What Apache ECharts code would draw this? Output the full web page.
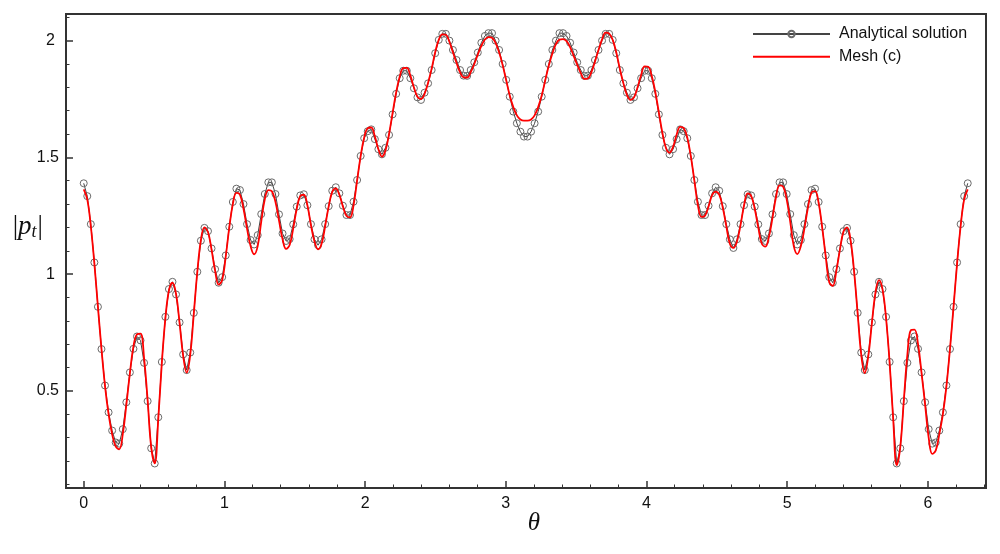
<!DOCTYPE html>
<html><head><meta charset="utf-8">
<script src="https://cdn.jsdelivr.net/npm/echarts@6/dist/echarts.min.js"></script>
<style>html,body{margin:0;padding:0;background:#fff}#c{width:1000px;height:554px}</style>
</head><body><div id="c"></div>
<script>
// sampling step of theta (250 samples from 0 to 2*pi)
const THETA_STEP = 2 * Math.PI / 249;

const analytical = [
 1.389,1.334,1.214,1.050,0.860,0.679,0.523,0.408,0.330,0.279,
 0.274,0.336,0.451,0.579,0.680,0.733,0.716,0.620,0.456,0.254,
 0.189,0.387,0.624,0.817,0.936,0.967,0.913,0.793,0.656,0.589,
 0.664,0.834,1.010,1.143,1.198,1.184,1.110,1.021,0.963,0.987,
 1.080,1.203,1.309,1.366,1.360,1.300,1.214,1.146,1.127,1.167,
 1.257,1.343,1.393,1.393,1.343,1.256,1.174,1.142,1.150,1.213,
 1.289,1.337,1.342,1.295,1.214,1.149,1.124,1.149,1.214,1.291,
 1.357,1.372,1.346,1.293,1.253,1.253,1.310,1.403,1.506,1.582,
 1.612,1.620,1.578,1.535,1.513,1.541,1.596,1.684,1.772,1.839,
 1.871,1.871,1.839,1.796,1.757,1.746,1.777,1.817,1.874,1.946,
 2.003,2.029,2.029,2.000,1.960,1.917,1.874,1.850,1.849,1.874,
 1.907,1.949,1.991,2.020,2.032,2.032,2.000,1.960,1.900,1.832,
 1.760,1.696,1.646,1.610,1.589,
 1.589,1.610,1.646,1.696,1.760,
 1.832,1.900,1.960,2.000,2.032,2.032,2.020,1.991,1.949,1.907,
 1.874,1.849,1.850,1.874,1.917,1.960,2.000,2.029,2.029,2.003,
 1.946,1.874,1.817,1.777,1.746,1.757,1.796,1.839,1.871,1.871,
 1.839,1.772,1.684,1.596,1.541,1.513,1.535,1.578,1.620,1.612,
 1.582,1.506,1.403,1.310,1.253,1.253,1.293,1.346,1.372,1.357,
 1.291,1.214,1.149,1.112,1.149,1.214,1.295,1.342,1.337,1.289,
 1.213,1.150,1.142,1.174,1.256,1.343,1.393,1.393,1.343,1.257,
 1.167,1.127,1.146,1.214,1.300,1.360,1.366,1.309,1.203,1.080,
 0.987,0.963,1.021,1.110,1.184,1.198,1.143,1.010,0.834,0.664,
 0.589,0.656,0.793,0.913,0.967,0.936,0.817,0.624,0.387,0.189,
 0.254,0.456,0.620,0.716,0.733,0.680,0.579,0.451,0.336,0.274,
 0.279,0.330,0.408,0.523,0.679,0.860,1.050,1.214,1.334,1.389
];

const meshC = [
 1.363,1.320,1.205,1.045,0.860,0.680,0.520,0.400,0.315,0.262,
 0.250,0.315,0.440,0.575,0.690,0.742,0.745,0.640,0.460,0.260,
 0.190,0.380,0.620,0.810,0.930,0.963,0.915,0.790,0.650,0.578,
 0.655,0.830,1.010,1.145,1.200,1.180,1.105,1.015,0.955,0.975,
 1.075,1.200,1.300,1.348,1.340,1.280,1.195,1.120,1.085,1.120,
 1.225,1.320,1.360,1.355,1.310,1.230,1.150,1.108,1.125,1.195,
 1.280,1.335,1.340,1.295,1.210,1.140,1.106,1.130,1.205,1.290,
 1.352,1.367,1.340,1.290,1.250,1.243,1.295,1.400,1.505,1.585,
 1.625,1.628,1.590,1.535,1.503,1.530,1.600,1.690,1.778,1.845,
 1.882,1.883,1.850,1.800,1.760,1.750,1.772,1.820,1.880,1.950,
 2.003,2.027,2.025,1.995,1.950,1.905,1.865,1.843,1.842,1.865,
 1.900,1.940,1.978,2.005,2.015,2.012,1.990,1.950,1.895,1.830,
 1.765,1.715,1.680,1.662,1.657,
 1.657,1.662,1.680,1.715,1.765,
 1.830,1.893,1.945,1.985,2.004,2.006,1.998,1.972,1.935,1.897,
 1.862,1.836,1.838,1.865,1.910,1.960,2.005,2.034,2.030,2.003,
 1.950,1.880,1.818,1.768,1.746,1.757,1.800,1.852,1.890,1.888,
 1.848,1.780,1.692,1.605,1.540,1.520,1.545,1.597,1.631,1.626,
 1.585,1.505,1.400,1.295,1.245,1.250,1.290,1.338,1.353,1.340,
 1.285,1.205,1.130,1.112,1.140,1.210,1.295,1.346,1.335,1.280,
 1.200,1.130,1.118,1.160,1.240,1.330,1.380,1.375,1.320,1.225,
 1.120,1.086,1.120,1.195,1.285,1.350,1.355,1.305,1.200,1.075,
 0.965,0.950,1.015,1.105,1.182,1.200,1.145,1.010,0.830,0.655,
 0.576,0.650,0.790,0.920,0.974,0.935,0.810,0.620,0.380,0.182,
 0.260,0.460,0.655,0.760,0.762,0.700,0.575,0.440,0.300,0.230,
 0.245,0.315,0.400,0.520,0.680,0.860,1.045,1.205,1.320,1.363
];

const xMajorTicks = [0, 1, 2, 3, 4, 5, 6];
const xMinorTicks = [0.2,0.4,0.6,0.8,1.2,1.4,1.6,1.8,2.2,2.4,2.6,2.8,3.2,3.4,3.6,3.8,4.2,4.4,4.6,4.8,5.2,5.4,5.6,5.8,6.2,6.4];
const yMajorTicks = [0.5, 1, 1.5, 2];
const yMinorTicks = [0.1,0.2,0.3,0.4,0.6,0.7,0.8,0.9,1.1,1.2,1.3,1.4,1.6,1.7,1.8,1.9,2.1];
const X_RANGE = [-0.126, 6.413];
const Y_RANGE = [0.084, 2.114];
const seriesNames = ['Analytical solution', 'Mesh (c)'];

const toPairs = arr => arr.map((v, i) => [i * THETA_STEP, v]);

const chart = echarts.init(document.getElementById('c'), null, {renderer: 'canvas'});
const labelFont = {fontSize: 16, color: '#111', fontFamily: 'Liberation Sans'};
const gridBox = {left: 66, top: 14, width: 920, height: 474};
const hiddenLine = {show: false, onZero: false};

chart.setOption({
  animation: false,
  backgroundColor: '#fff',
  grid: [
    Object.assign({show: true, borderColor: '#333', borderWidth: 2, backgroundColor: 'transparent'}, gridBox),
    Object.assign({}, gridBox)
  ],
  legend: {
    data: seriesNames,
    orient: 'vertical',
    left: 747,
    top: 21,
    itemWidth: 77,
    itemHeight: 8,
    itemGap: 6.7,
    textStyle: Object.assign({lineHeight: 16, padding: [0, 0, 0, 4]}, labelFont)
  },
  xAxis: [
    {
      type: 'value', gridIndex: 0, min: X_RANGE[0], max: X_RANGE[1],
      axisLine: hiddenLine, splitLine: {show: false},
      axisTick: {inside: true, length: 7, customValues: xMajorTicks, lineStyle: {color: '#333', width: 1.5}},
      axisLabel: Object.assign({customValues: xMajorTicks, margin: 8}, labelFont),
      name: 'θ', nameLocation: 'middle', nameGap: 23, nameMoveOverlap: false,
      nameTextStyle: {fontFamily: 'Liberation Serif', fontStyle: 'italic', fontSize: 25, color: '#111', padding: [0, 0, 0, 16]}
    },
    {
      type: 'value', gridIndex: 1, min: X_RANGE[0], max: X_RANGE[1],
      axisLine: hiddenLine, splitLine: {show: false}, axisLabel: {show: false},
      axisTick: {inside: true, length: 3.5, customValues: xMinorTicks, lineStyle: {color: '#333', width: 1}}
    }
  ],
  yAxis: [
    {
      type: 'value', gridIndex: 0, min: Y_RANGE[0], max: Y_RANGE[1],
      axisLine: hiddenLine, splitLine: {show: false},
      axisTick: {inside: true, length: 7, customValues: yMajorTicks, lineStyle: {color: '#333', width: 1.5}},
      axisLabel: Object.assign({
        customValues: yMajorTicks, margin: 7,
        formatter: v => Number.isInteger(v) ? '{i|' + v + '}' : '{f|' + v + '}',
        rich: {
          i: Object.assign({padding: [0, 4, 0, 0]}, labelFont),
          f: Object.assign({}, labelFont)
        }
      }, labelFont),
      name: '|{p|p}{t|t}|', nameLocation: 'middle', nameRotate: 0, nameGap: 23, nameMoveOverlap: false,
      nameTextStyle: {
        fontFamily: 'Liberation Serif', fontSize: 27, color: '#111', padding: [0, 0, 48, 0],
        rich: {
          p: {fontFamily: 'Liberation Serif', fontStyle: 'italic', fontSize: 27, color: '#111'},
          t: {fontFamily: 'Liberation Serif', fontStyle: 'italic', fontSize: 18, color: '#111', padding: [10, 1, 0, 0]}
        }
      }
    },
    {
      type: 'value', gridIndex: 1, min: Y_RANGE[0], max: Y_RANGE[1],
      axisLine: hiddenLine, splitLine: {show: false}, axisLabel: {show: false},
      axisTick: {inside: true, length: 3.5, customValues: yMinorTicks, lineStyle: {color: '#333', width: 1}}
    }
  ],
  series: [
    {
      name: seriesNames[0], type: 'line', xAxisIndex: 0, yAxisIndex: 0,
      data: toPairs(analytical),
      symbol: 'circle', symbolSize: 7, showSymbol: true, showAllSymbol: true,
      lineStyle: {color: '#444', width: 1},
      itemStyle: {color: 'rgba(255,255,255,0)', borderColor: '#6a6a6a', borderWidth: 1},
      z: 2
    },
    {
      name: seriesNames[1], type: 'line', xAxisIndex: 0, yAxisIndex: 0,
      data: toPairs(meshC),
      symbol: 'none', smooth: 0.4,
      lineStyle: {color: '#f00', width: 1.8},
      itemStyle: {color: 'rgba(255,0,0,0)'},
      z: 3
    }
  ]
});
</script>
</body></html>
